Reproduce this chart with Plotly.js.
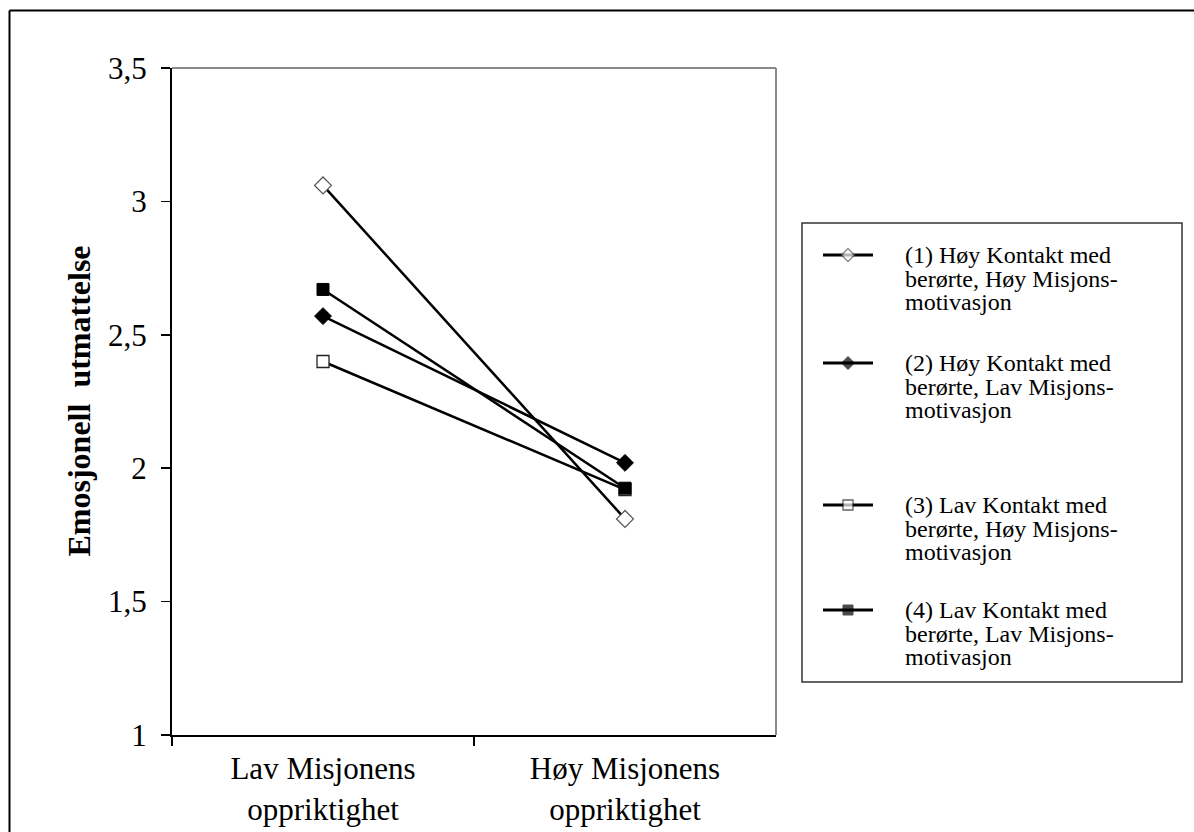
<!DOCTYPE html>
<html>
<head>
<meta charset="utf-8">
<script src="https://cdn.plot.ly/plotly-3.0.1.min.js"></script>
<style>html,body{margin:0;padding:0;background:#fff;}#chart{width:1194px;height:832px;}</style>
</head>
<body>
<div id="chart"></div>
<script>
// ---- data ----
const categories = ['Lav Misjonens<br>oppriktighet', 'Høy Misjonens<br>oppriktighet'];
const seriesNames = [
  '(1) Høy Kontakt med berørte, Høy Misjonsmotivasjon',
  '(2) Høy Kontakt med berørte, Lav Misjonsmotivasjon',
  '(3) Lav Kontakt med berørte, Høy Misjonsmotivasjon',
  '(4) Lav Kontakt med berørte, Lav Misjonsmotivasjon'
];
const legendLines = [
  ['(1) Høy Kontakt med', 'berørte, Høy Misjons-', 'motivasjon'],
  ['(2) Høy Kontakt med', 'berørte, Lav Misjons-', 'motivasjon'],
  ['(3) Lav Kontakt med', 'berørte, Høy Misjons-', 'motivasjon'],
  ['(4) Lav Kontakt med', 'berørte, Lav Misjons-', 'motivasjon']
];
const series1 = [3.06, 1.81];
const series2 = [2.57, 2.02];
const series3 = [2.40, 1.92];
const series4 = [2.67, 1.925];
const yTickVals = [1, 1.5, 2, 2.5, 3, 3.5];
const yTickText = ['1', '1,5', '2', '2,5', '3', '3,5'];
const yTitle = 'Emosjonell\u00a0 utmattelse';

// ---- layout geometry (pixels) ----
const W = 1194, H = 832;
const plotL = 172, plotR = 776, plotT = 68, plotB = 735;
const FONT = '"Liberation Serif", "Times New Roman", serif';

const styles = [
  {symbol: 'diamond', color: '#ffffff', line: {color: '#555555', width: 1.3}},
  {symbol: 'diamond', color: '#000000', line: {color: '#000000', width: 1}},
  {symbol: 'square', color: '#ffffff', line: {color: '#222222', width: 1.3}},
  {symbol: 'square', color: '#000000', line: {color: '#000000', width: 1}}
];
const allSeries = [series1, series2, series3, series4];

const traces = allSeries.map((vals, i) => ({
  type: 'scatter', mode: 'lines+markers',
  name: seriesNames[i],
  x: categories, y: vals,
  xaxis: 'x', yaxis: 'y',
  line: {color: '#000000', width: 2.5},
  marker: {symbol: styles[i].symbol, size: styles[i].symbol === 'diamond' ? 13 : 12,
           color: styles[i].color, line: styles[i].line},
  showlegend: false, cliponaxis: false
}));

// custom legend drawn on a pixel-coordinate overlay axis
const legBox = {x0: 802, y0: 223, x1: 1182, y1: 682};
const legEntryY = [255, 363, 505, 610];
const legLineX = [823, 873];
const legTextX = 903;
const legLineGap = 23.5;

legEntryY.forEach((y, i) => {
  traces.push({
    type: 'scatter', mode: 'lines+markers',
    x: [legLineX[0], (legLineX[0] + legLineX[1]) / 2, legLineX[1]], y: [y, y, y],
    xaxis: 'x2', yaxis: 'y2',
    line: {color: '#000000', width: 2.8},
    marker: {symbol: styles[i].symbol, size: [0, 10, 0],
             color: styles[i].color, line: styles[i].line},
    showlegend: false, hoverinfo: 'skip'
  });
});

const annotations = [];
legendLines.forEach((lines, i) => {
  lines.forEach((t, j) => {
    annotations.push({
      xref: 'x2', yref: 'y2', x: legTextX, y: legEntryY[i] + j * legLineGap,
      text: t, showarrow: false, xanchor: 'left', yanchor: 'middle',
      font: {family: FONT, size: 24, color: '#000'}
    });
  });
});
annotations.push({
  xref: 'x2', yref: 'y2', x: 78, y: (plotT + plotB) / 2, text: '<b>' + yTitle + '</b>',
  textangle: -90, showarrow: false, xanchor: 'center', yanchor: 'middle',
  font: {family: FONT, size: 32, color: '#000'}
});

const shapes = [
  // outer frame
  {type: 'line', xref: 'x2', yref: 'y2', x0: 9.5, y0: 10.5, x1: W + 5, y1: 10.5, line: {color: '#000', width: 2}},
  {type: 'line', xref: 'x2', yref: 'y2', x0: 9.5, y0: 10.5, x1: 9.5, y1: H + 5, line: {color: '#000', width: 2}},
  // top and right of plot area (gray)
  {type: 'line', xref: 'x2', yref: 'y2', x0: plotL, y0: plotT, x1: plotR, y1: plotT, line: {color: '#8a8a8a', width: 2}},
  {type: 'line', xref: 'x2', yref: 'y2', x0: plotR, y0: plotT, x1: plotR, y1: plotB, line: {color: '#8a8a8a', width: 2}},
  // legend box
  {type: 'rect', xref: 'x2', yref: 'y2', x0: legBox.x0, y0: legBox.y0, x1: legBox.x1, y1: legBox.y1,
   line: {color: '#333', width: 1.5}, fillcolor: 'rgba(0,0,0,0)'}
];

const layout = {
  width: W, height: H,
  margin: {l: 0, r: 0, t: 0, b: 0, pad: 0},
  paper_bgcolor: '#fff', plot_bgcolor: 'rgba(0,0,0,0)',
  showlegend: false,
  font: {family: FONT, color: '#000'},
  xaxis: {
    domain: [plotL / W, plotR / W], type: 'category', range: [-0.5, 1.5], anchor: 'y',
    tickson: 'boundaries', ticks: 'outside', ticklen: 9, tickwidth: 1.5, tickcolor: '#000',
    ticklabelstandoff: 5,
    showline: true, linecolor: '#000', linewidth: 2, showgrid: false, zeroline: false,
    tickfont: {family: FONT, size: 31, color: '#000'}, automargin: false, fixedrange: true
  },
  yaxis: {
    domain: [1 - plotB / H, 1 - plotT / H], range: [1, 3.5], anchor: 'x',
    tickvals: yTickVals, ticktext: yTickText, ticklabelstandoff: 8,
    ticks: 'outside', ticklen: 9, tickwidth: 1.5, tickcolor: '#000',
    showline: true, linecolor: '#000', linewidth: 2, showgrid: false, zeroline: false,
    tickfont: {family: FONT, size: 31, color: '#000'}, automargin: false, fixedrange: true
  },
  xaxis2: {domain: [0, 1], range: [0, W], visible: false, fixedrange: true, anchor: 'y2'},
  yaxis2: {domain: [0, 1], range: [H, 0], visible: false, fixedrange: true, anchor: 'x2'},
  shapes: shapes,
  annotations: annotations
};

Plotly.newPlot('chart', traces, layout, {displayModeBar: false, staticPlot: true});
</script>
</body>
</html>
